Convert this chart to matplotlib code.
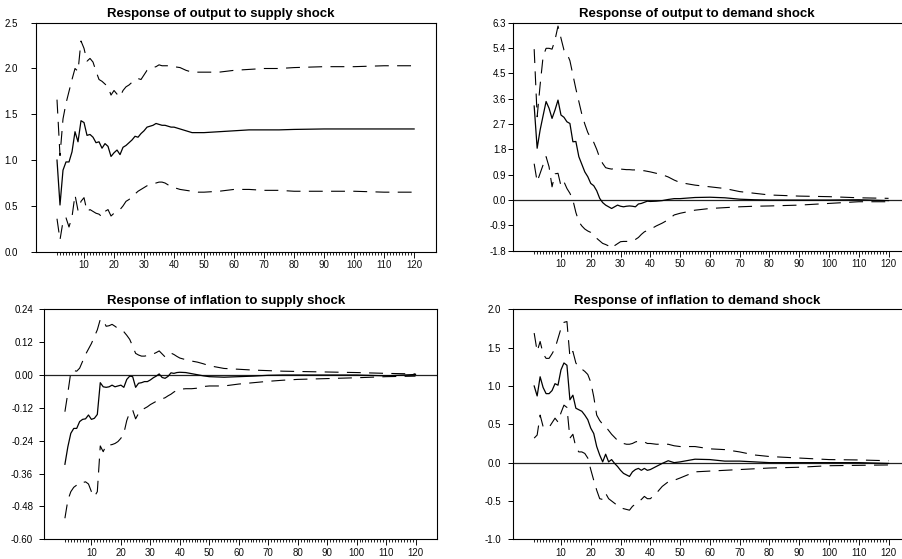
import matplotlib
matplotlib.use("Agg")
import matplotlib.pyplot as plt
from matplotlib.ticker import FixedLocator, FormatStrFormatter

plt.rcParams['font.family'] = ['Liberation Sans', 'DejaVu Sans']
plt.rcParams['axes.unicode_minus'] = False
plt.rcParams['lines.scale_dashes'] = False

# horizons (every period up to 40, then sparser)
periods = list(range(1, 41)) + [42, 44, 46, 48, 50, 55, 60, 65, 70, 75, 80, 90, 100, 110, 120]

# response of output to supply shock
out_sup = [1.00, 0.51, 0.89, 0.98, 0.98, 1.09, 1.31, 1.20, 1.43, 1.41,
           1.27, 1.28, 1.25, 1.19, 1.20, 1.13, 1.18, 1.15, 1.04, 1.08,
           1.11, 1.06, 1.14, 1.16, 1.19, 1.22, 1.26, 1.25, 1.29, 1.32,
           1.36, 1.37, 1.38, 1.40, 1.39, 1.38, 1.38, 1.37, 1.36, 1.36,
           1.34, 1.32, 1.30, 1.30, 1.30, 1.31, 1.32, 1.33, 1.33, 1.33, 1.335, 1.34, 1.34, 1.34, 1.34]
out_sup_hi = [1.66, 1.05, 1.45, 1.62, 1.75, 1.88, 2.00, 1.97, 2.30, 2.22,
              2.08, 2.11, 2.07, 1.97, 1.88, 1.86, 1.83, 1.80, 1.71, 1.76,
              1.72, 1.69, 1.76, 1.80, 1.82, 1.85, 1.88, 1.89, 1.88, 1.93,
              1.98, 2.00, 2.01, 2.02, 2.04, 2.03, 2.03, 2.03, 2.03, 2.02,
              2.01, 1.98, 1.96, 1.96, 1.96, 1.96, 1.98, 1.99, 2.00, 2.00, 2.01, 2.02, 2.02, 2.03, 2.03]
out_sup_lo = [0.36, 0.13, 0.33, 0.37, 0.27, 0.38, 0.62, 0.45, 0.55, 0.59,
              0.44, 0.46, 0.44, 0.42, 0.41, 0.38, 0.44, 0.46, 0.39, 0.42,
              0.44, 0.46, 0.50, 0.55, 0.57, 0.60, 0.63, 0.66, 0.68, 0.70,
              0.72, 0.73, 0.74, 0.75, 0.76, 0.76, 0.75, 0.73, 0.71, 0.70,
              0.68, 0.67, 0.66, 0.65, 0.65, 0.66, 0.68, 0.68, 0.67, 0.67, 0.66, 0.66, 0.66, 0.65, 0.65]

# response of output to demand shock
out_dem = [3.34, 1.84, 2.49, 3.00, 3.50, 3.26, 2.90, 3.20, 3.55, 3.02,
           2.94, 2.78, 2.72, 2.07, 2.08, 1.54, 1.27, 1.00, 0.83, 0.59,
           0.51, 0.33, 0.06, -0.09, -0.18, -0.24, -0.30, -0.24, -0.18, -0.22,
           -0.24, -0.22, -0.21, -0.22, -0.24, -0.14, -0.12, -0.08, -0.04, -0.05,
           -0.04, -0.02, 0.02, 0.05, 0.05, 0.09, 0.10, 0.08, 0.03, 0.01, 0.00, 0.00, 0.00, 0.01, -0.02]
out_dem_hi = [5.36, 2.96, 4.09, 5.10, 5.39, 5.39, 5.36, 5.69, 6.18, 5.75,
              5.33, 5.21, 4.95, 4.45, 3.95, 3.50, 3.05, 2.70, 2.40, 2.20,
              2.05, 1.80, 1.50, 1.30, 1.15, 1.12, 1.10, 1.12, 1.11, 1.10,
              1.09, 1.08, 1.08, 1.07, 1.07, 1.06, 1.05, 1.04, 1.02, 1.00,
              0.95, 0.90, 0.82, 0.71, 0.62, 0.53, 0.47, 0.41, 0.30, 0.24, 0.18, 0.14, 0.12, 0.08, 0.06]
out_dem_lo = [1.29, 0.65, 0.95, 1.25, 1.54, 1.18, 0.47, 0.93, 0.95, 0.50,
              0.65, 0.41, 0.24, 0.00, -0.44, -0.77, -0.92, -1.03, -1.10, -1.15,
              -1.25, -1.36, -1.45, -1.54, -1.58, -1.63, -1.72, -1.62, -1.55, -1.48,
              -1.47, -1.47, -1.46, -1.45, -1.40, -1.33, -1.22, -1.13, -1.08, -1.04,
              -0.92, -0.82, -0.70, -0.53, -0.47, -0.36, -0.30, -0.27, -0.24, -0.22, -0.21, -0.18, -0.12, -0.06, -0.06]

# response of inflation to supply shock
inf_sup = [-0.326, -0.262, -0.213, -0.195, -0.195, -0.170, -0.162, -0.160, -0.146, -0.162,
           -0.158, -0.144, -0.028, -0.043, -0.045, -0.043, -0.037, -0.043, -0.040, -0.037,
           -0.045, -0.016, -0.004, -0.006, -0.045, -0.030, -0.028, -0.024, -0.024, -0.018,
           -0.010, -0.004, 0.004, -0.009, -0.012, -0.005, 0.008, 0.006, 0.009, 0.010,
           0.009, 0.005, 0.001, -0.003, -0.006, -0.008, -0.006, -0.004, -0.001, 0.000, 0.000, 0.000, 0.000, -0.003, 0.002]
inf_sup_hi = [-0.134, -0.065, 0.010, 0.016, 0.014, 0.025, 0.050, 0.075, 0.095, 0.115,
              0.140, 0.165, 0.203, 0.200, 0.178, 0.180, 0.185, 0.178, 0.170, 0.165,
              0.158, 0.145, 0.130, 0.105, 0.079, 0.073, 0.069, 0.069, 0.071, 0.074,
              0.077, 0.082, 0.088, 0.077, 0.066, 0.069, 0.080, 0.075, 0.068, 0.062,
              0.056, 0.051, 0.047, 0.041, 0.034, 0.024, 0.021, 0.018, 0.016, 0.014, 0.013, 0.011, 0.009, 0.006, 0.004]
inf_sup_lo = [-0.523, -0.457, -0.426, -0.410, -0.402, -0.392, -0.393, -0.390, -0.398, -0.426,
              -0.444, -0.426, -0.259, -0.280, -0.256, -0.256, -0.254, -0.250, -0.243, -0.231,
              -0.213, -0.166, -0.136, -0.128, -0.160, -0.140, -0.128, -0.122, -0.116, -0.108,
              -0.102, -0.096, -0.090, -0.087, -0.083, -0.076, -0.070, -0.062, -0.056, -0.052,
              -0.050, -0.050, -0.048, -0.042, -0.040, -0.040, -0.033, -0.028, -0.023, -0.019, -0.016, -0.013, -0.010, -0.006, -0.004]

# response of inflation to demand shock
inf_dem = [1.00, 0.87, 1.12, 0.98, 0.90, 0.90, 0.94, 1.03, 1.01, 1.21,
           1.30, 1.27, 0.82, 0.88, 0.71, 0.69, 0.67, 0.62, 0.56, 0.45,
           0.38, 0.21, 0.10, 0.01, 0.11, 0.01, 0.04, -0.01, -0.05, -0.10,
           -0.14, -0.16, -0.18, -0.12, -0.09, -0.075, -0.10, -0.075, -0.10, -0.09,
           -0.05, -0.01, 0.025, 0.00, 0.01, 0.045, 0.04, 0.02, 0.02, 0.01, 0.00, 0.00, 0.00, 0.00, -0.01]
inf_dem_hi = [1.69, 1.45, 1.58, 1.42, 1.36, 1.36, 1.42, 1.49, 1.62, 1.75,
              1.83, 1.84, 1.38, 1.45, 1.30, 1.24, 1.22, 1.19, 1.15, 1.05,
              0.86, 0.62, 0.55, 0.50, 0.47, 0.42, 0.37, 0.33, 0.29, 0.27,
              0.25, 0.24, 0.24, 0.25, 0.27, 0.28, 0.28, 0.27, 0.25, 0.25,
              0.24, 0.24, 0.24, 0.22, 0.21, 0.21, 0.18, 0.17, 0.14, 0.10, 0.08, 0.06, 0.04, 0.035, 0.025]
inf_dem_lo = [0.32, 0.36, 0.62, 0.47, 0.45, 0.46, 0.52, 0.58, 0.53, 0.65,
              0.75, 0.72, 0.32, 0.37, 0.20, 0.14, 0.14, 0.12, 0.06, -0.09,
              -0.23, -0.36, -0.47, -0.48, -0.40, -0.47, -0.50, -0.53, -0.56, -0.59,
              -0.60, -0.61, -0.62, -0.57, -0.54, -0.51, -0.48, -0.44, -0.47, -0.47,
              -0.40, -0.31, -0.25, -0.23, -0.20, -0.12, -0.11, -0.10, -0.09, -0.08, -0.07, -0.06, -0.04, -0.035, -0.03]

titles = ["Response of output to supply shock", "Response of output to demand shock",
          "Response of inflation to supply shock", "Response of inflation to demand shock"]
yticks = [[0.0, 0.5, 1.0, 1.5, 2.0, 2.5],
          [-1.8, -0.9, 0.0, 0.9, 1.8, 2.7, 3.6, 4.5, 5.4, 6.3],
          [-0.60, -0.48, -0.36, -0.24, -0.12, 0.00, 0.12, 0.24],
          [-1.0, -0.5, 0.0, 0.5, 1.0, 1.5, 2.0]]
yfmt = ['%.1f', '%.1f', '%.2f', '%.1f']
xticks = [10, 20, 30, 40, 50, 60, 70, 80, 90, 100, 110, 120]

panels = [(out_sup, out_sup_hi, out_sup_lo), (out_dem, out_dem_hi, out_dem_lo),
          (inf_sup, inf_sup_hi, inf_sup_lo), (inf_dem, inf_dem_hi, inf_dem_lo)]

# axes boxes in figure fractions, right column runs off the canvas like the original
boxes = [[0.0399, 0.5497, 0.4435, 0.4097],
         [0.5691, 0.5515, 0.4401, 0.4079],
         [0.0491, 0.0352, 0.4354, 0.4115],
         [0.5691, 0.0352, 0.4401, 0.4115]]
ypads = [9.5, 1.5, 4.5, 5.5]
zero_line = [False, True, True, True]

fig = plt.figure(figsize=(9.02, 5.59), dpi=100)

for i in range(4):
    mid, hi, lo = panels[i]
    ax = fig.add_axes(boxes[i])
    if zero_line[i]:
        ax.axhline(0, color='#222222', lw=0.9, zorder=1)
    ax.plot(periods, mid, color='black', lw=0.9)
    ax.plot(periods, hi, color='black', lw=0.8, dashes=(10, 6))
    ax.plot(periods, lo, color='black', lw=0.8, dashes=(10, 6))

    ax.set_xlim(-6, 127.3)
    ax.set_ylim(yticks[i][0], yticks[i][-1])
    ax.yaxis.set_major_locator(FixedLocator(yticks[i]))
    ax.yaxis.set_major_formatter(FormatStrFormatter(yfmt[i]))
    ax.xaxis.set_major_locator(FixedLocator(xticks))
    ax.xaxis.set_minor_locator(FixedLocator(list(range(1, 121))))

    ax.tick_params(axis='x', which='major', length=4, width=0.7, pad=2, labelsize=7, colors='#111111')
    ax.tick_params(axis='x', which='minor', length=2.2, width=0.6)
    ax.tick_params(axis='y', length=3.5, width=0.7, pad=ypads[i], labelsize=7)
    for s in ax.spines.values():
        s.set_linewidth(0.8)

    ax.set_title(titles[i], fontsize=9.5, fontweight='bold', x=0.463, pad=4)

fig.savefig('out.png', dpi=100)
